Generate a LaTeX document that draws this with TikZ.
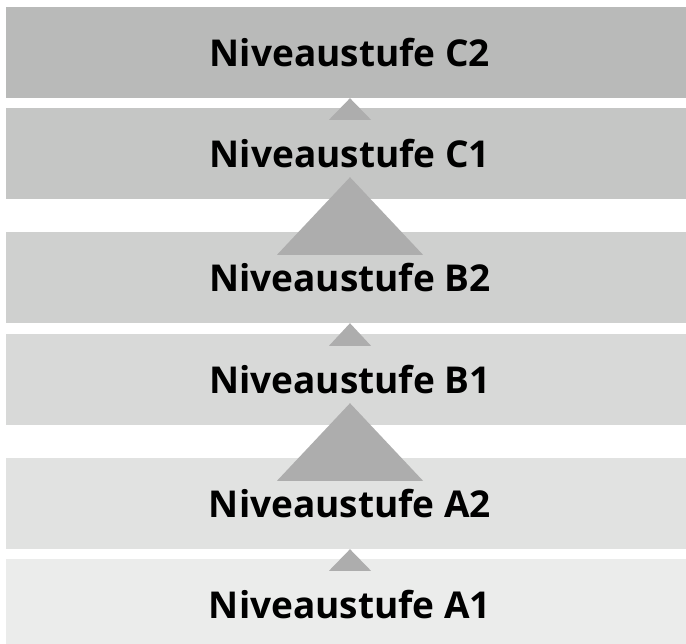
\documentclass[tikz,border=0pt]{standalone}
\usepackage{fontspec}
\setmainfont{Open Sans}
\usetikzlibrary{calc}
\definecolor{lvC2}{RGB}{185,186,185}
\definecolor{lvC1}{RGB}{197,198,197}
\definecolor{lvB2}{RGB}{207,208,207}
\definecolor{lvB1}{RGB}{216,217,216}
\definecolor{lvA2}{RGB}{225,226,225}
\definecolor{lvA1}{RGB}{235,236,235}
\definecolor{stepgray}{RGB}{173,173,173}

\begin{document}
\begin{tikzpicture}[
		x=1pt,y=-1pt,
		band/.style={fill=lv#1,minimum width=688pt,minimum height=91pt,inner sep=0pt,
			font=\fontsize{37}{40}\selectfont\bfseries},
		tri/.style={fill=stepgray}
	]
	\useasboundingbox (0,0) rectangle (686,644);

	%the six levels
		\foreach \n/\y in {C2/52.5, C1/153.5, B2/277.5, B1/379.5, A2/503.5, A1/604.5}
			\node[band=\n] (\n) at (350,\y) {Niveaustufe \n};
	%small steps
		\foreach \a/\b in {C2/C1, B2/B1, A2/A1}
			\fill[tri] (\a.south) -- ($(\b.north)+(21,12)$) -- ($(\b.north)+(-21,12)$) -- cycle;
	%big steps
		\foreach \a/\b in {C1/B2, B1/A2}
			\fill[tri] ($(\a.south)+(0,-22)$) -- ($(\b.north)+(73,23)$) -- ($(\b.north)+(-73,23)$) -- cycle;
	\end{tikzpicture}
\end{document}
